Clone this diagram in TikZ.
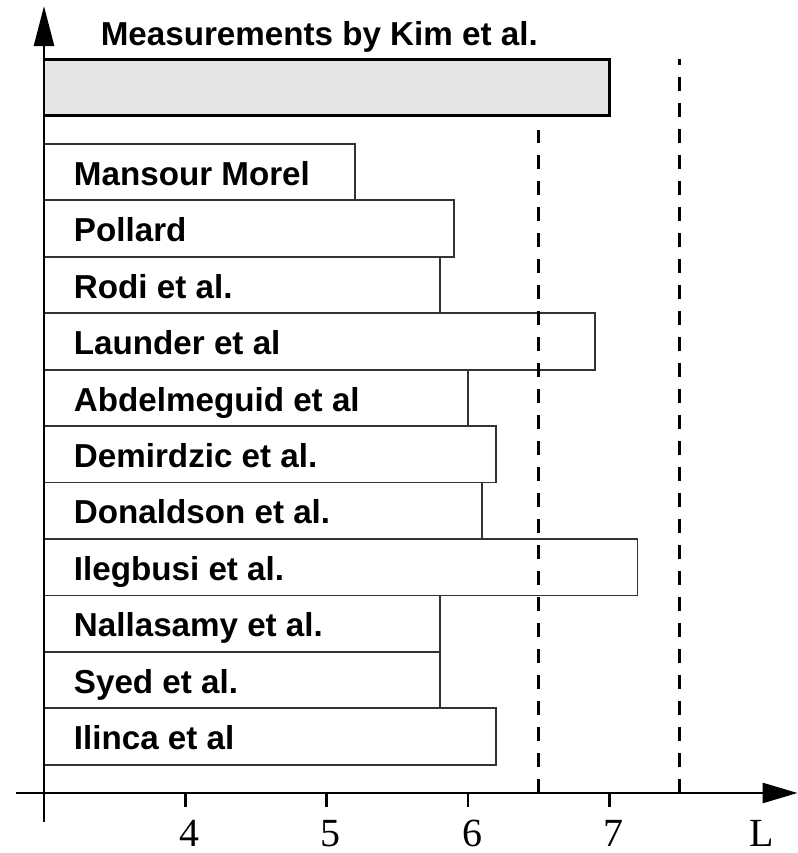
\documentclass[tikz,border=0pt]{standalone}
\usepackage{fontspec}
\setmainfont{Liberation Serif}
\newfontfamily\barfont{Liberation Sans}
\usetikzlibrary{arrows.meta}
\definecolor{KimColor}{RGB}{229,229,229}
\definecolor{FrameColor}{RGB}{51,51,51}
\tikzstyle{axis} = [line width=0.0675cm, black]
\tikzstyle{bar} = [draw=FrameColor, fill=white, line width=0.045cm]
\tikzstyle{barlabel} = [anchor=base west, inner sep=0pt, font=\barfont\bfseries\fontsize{23.6}{23.6}\selectfont]
\tikzstyle{limit} = [line width=0.075cm, dash pattern=on 0.34cm off 0.31cm]
\tikzstyle{ticklabel} = [anchor=base, inner sep=0pt, font=\fontsize{28.4}{28.4}\selectfont]

\begin{document}
\begin{tikzpicture}[x=3.5325cm, y=1.41125cm]
            \useasboundingbox (2.6886,-1.0629) rectangle (8.3362,14.048);

            % Measured length
            \draw[axis, fill=KimColor] (3,12) rectangle (7,13);
            \node[barlabel] (kim) at (3.40,13.25) {Measurements by Kim et al.};

            % Predicted lengths
            \draw[bar] (3,10.5) rectangle (5.2,11.5);
            \node[barlabel] (mansour) at (3.21,10.766) {Mansour Morel};
            \draw[bar] (3,9.5) rectangle (5.9,10.5);
            \node[barlabel] (pollard) at (3.21,9.766) {Pollard};
            \draw[bar] (3,8.5) rectangle (5.8,9.5);
            \node[barlabel] (rodi) at (3.21,8.766) {Rodi et al.};
            \draw[bar] (3,7.5) rectangle (6.9,8.5);
            \node[barlabel] (launder) at (3.21,7.766) {Launder et al};
            \draw[bar] (3,6.5) rectangle (6.0,7.5);
            \node[barlabel] (abdelmeguid) at (3.21,6.766) {Abdelmeguid et al};
            \draw[bar] (3,5.5) rectangle (6.2,6.5);
            \node[barlabel] (demirdzic) at (3.21,5.766) {Demirdzic et al.};
            \draw[bar] (3,4.5) rectangle (6.1,5.5);
            \node[barlabel] (donaldson) at (3.21,4.766) {Donaldson et al.};
            \draw[bar] (3,3.5) rectangle (7.2,4.5);
            \node[barlabel] (ilegbusi) at (3.21,3.766) {Ilegbusi et al.};
            \draw[bar] (3,2.5) rectangle (5.8,3.5);
            \node[barlabel] (nallasamy) at (3.21,2.766) {Nallasamy et al.};
            \draw[bar] (3,1.5) rectangle (5.8,2.5);
            \node[barlabel] (syed) at (3.21,1.766) {Syed et al.};
            \draw[bar] (3,0.5) rectangle (6.2,1.5);
            \node[barlabel] (ilinca) at (3.21,0.766) {Ilinca et al};

            % Limits
            \coordinate (low-top) at (6.5,11.74);
            \coordinate (low-foot) at (6.5,0);
            \coordinate (high-top) at (7.5,13);
            \coordinate (high-foot) at (7.5,0);
            \draw[limit] (low-foot) -- (low-top);
            \draw[limit] (high-foot) -- (high-top);

            % Axes
            \coordinate (x-start) at (2.80,0);
            \coordinate (x-end) at (8.333,0);
            \coordinate (y-start) at (3,-0.51);
            \coordinate (y-end) at (3,13.94);
            \draw[axis, -{Triangle[length=0.875cm, width=0.5cm]}] (x-start) -- (x-end);
            \draw[axis, -{Triangle[length=1cm, width=0.5cm]}] (y-start) -- (y-end);

            % Ticks
            \draw[axis] (4,0) -- (4,-0.25);
            \draw[axis] (5,0) -- (5,-0.25);
            \draw[axis] (6,0) -- (6,-0.25);
            \draw[axis] (7,0) -- (7,-0.25);
            \node[ticklabel] (four) at (4.03,-0.94) {4};
            \node[ticklabel] (five) at (5.03,-0.94) {5};
            \node[ticklabel] (six) at (6.03,-0.94) {6};
            \node[ticklabel] (seven) at (7.03,-0.94) {7};
            \node[ticklabel] (length) at (8.08,-0.94) {L};
        \end{tikzpicture}
\end{document}
